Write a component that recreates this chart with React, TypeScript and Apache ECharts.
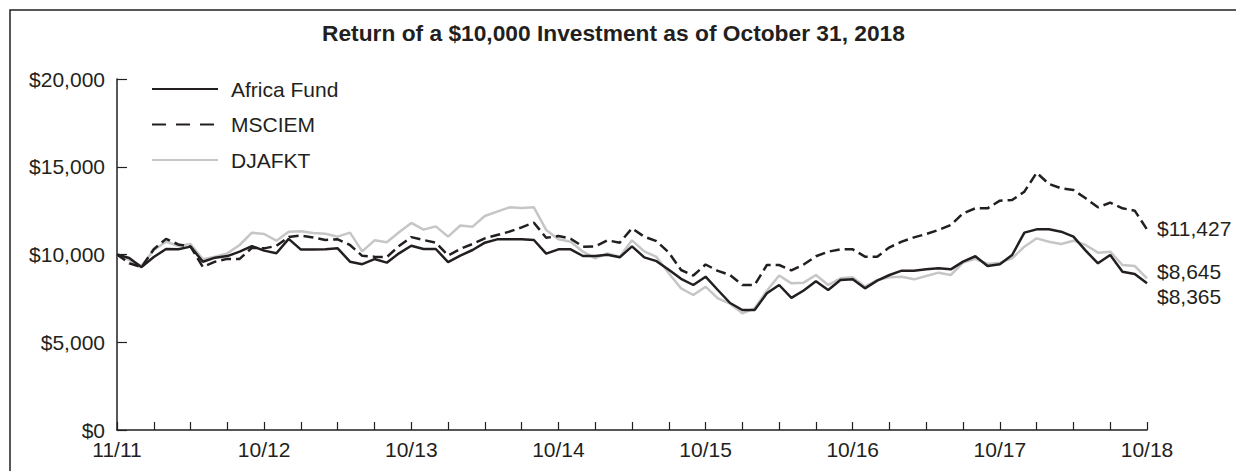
import React, { useEffect, useRef } from "react";
import * as echarts from "echarts";

const TITLE = "Return of a $10,000 Investment as of October 31, 2018";
const TICK_LABELS = ["11/11", "10/12", "10/13", "10/14", "10/15", "10/16", "10/17", "10/18"];
// index 0 = inception (11/11), then month ends 11/11 ... 10/18
const CATEGORIES = ["start 11/11"].concat(
  Array.from({ length: 84 }, (_, k) => {
    const m = ((10 + k) % 12) + 1;
    const y = 11 + Math.floor((10 + k) / 12);
    return `${m}/${y}`;
  })
);

const AFRICA_FUND = [
  10000, 9800, 9280, 9860, 10310, 10300, 10450, 9590, 9820, 9910,
  10160, 10480, 10220, 10070, 10890, 10280, 10280, 10300, 10350, 9590,
  9450, 9740, 9535, 10066, 10500, 10313, 10313, 9570, 9940, 10256,
  10674, 10864, 10864, 10864, 10826, 10050, 10294, 10294, 9915, 9915,
  9990, 9839, 10465, 9839, 9620, 9136, 8613, 8262, 8737, 7977,
  7236, 6838, 6838, 7787, 8262, 7530, 7950, 8480, 7977, 8547,
  8585, 8072, 8509, 8832, 9079, 9079, 9155, 9212, 9155, 9592,
  9900, 9345, 9440, 9972, 11244, 11434, 11434, 11301, 11016, 10218,
  9497, 9972, 9022, 8889, 8365,
];

const MSCIEM = [
  10000, 9500, 9280, 10300, 10890, 10570, 10450, 9290, 9591, 9750,
  9750, 10380, 10350, 10490, 11000, 11080, 10970, 10826, 10864, 10541,
  9925, 9877, 9850, 10480, 10990, 10826, 10674, 9945, 10320, 10598,
  10921, 11111, 11301, 11548, 11814, 10950, 11054, 10900, 10446, 10465,
  10807, 10674, 11491, 11016, 10760, 10114, 9117, 8803, 9430, 9070,
  8832, 8262, 8262, 9402, 9402, 9098, 9430, 9900, 10161, 10294,
  10294, 9877, 9877, 10408, 10731, 10978, 11168, 11396, 11681, 12346,
  12631, 12631, 13067, 13105, 13580, 14663, 14017, 13770, 13675, 13200,
  12688, 12954, 12631, 12498, 11427,
];

const DJAFKT = [
  10000, 9690, 9345, 10256, 10730, 10484, 10598, 9725, 9877, 10066,
  10541, 11244, 11168, 10788, 11301, 11320, 11225, 11187, 11016, 11244,
  10180, 10807, 10700, 11272, 11800, 11415, 11605, 11016, 11650, 11586,
  12194, 12441, 12688, 12650, 12688, 11400, 10864, 10731, 10161, 9782,
  10066, 9877, 10807, 10180, 9860, 8927, 8072, 7692, 8167, 7502,
  7198, 6648, 6933, 7930, 8800, 8357, 8395, 8832, 8262, 8642,
  8699, 8167, 8547, 8699, 8737, 8585, 8775, 8965, 8832, 9535,
  9750, 9459, 9535, 9782, 10446, 10921, 10731, 10598, 10788, 10541,
  10104, 10161, 9402, 9345, 8645,
];

const SERIES_NAMES = ["Africa Fund", "MSCIEM", "DJAFKT"];

const INK = "#231f20";
const GRAY = "#c6c6c6";
const FONT = "'Liberation Sans', Arial, Helvetica, sans-serif";

const money = (v: number) => "$" + Number(v).toLocaleString("en-US");

export default function App() {
  const ref = useRef<HTMLDivElement>(null);
  useEffect(() => {
    if (!ref.current) return;
    const chart = echarts.init(ref.current, null, { renderer: "svg" });
    const endLabel = (dy: number) => ({
      show: true,
      formatter: (p: any) => money(p.value),
      distance: 10,
      offset: [0, dy],
      fontSize: 21,
      fontFamily: FONT,
      color: INK,
    });
    chart.setOption({
      animation: false,
      backgroundColor: "#ffffff",
      textStyle: { fontFamily: FONT, color: INK },
      title: {
        text: TITLE,
        left: 322,
        top: 21,
        padding: 0,
        textStyle: { fontSize: 22.75, fontWeight: "bold", color: INK, fontFamily: FONT },
      },
      graphic: [
        {
          type: "rect",
          shape: { x: 10, y: 10, width: 1400, height: 700 },
          style: { fill: "none", stroke: INK, lineWidth: 1.5 },
          silent: true,
        },
      ],
      legend: {
        orient: "vertical",
        left: 151,
        top: 78,
        itemWidth: 66,
        itemHeight: 14,
        itemGap: 13.5,
        padding: 0,
        itemStyle: { opacity: 0 },
        data: [
          { name: SERIES_NAMES[0] },
          { name: SERIES_NAMES[1], lineStyle: { type: [14, 10] } },
          { name: SERIES_NAMES[2] },
        ],
        textStyle: { fontSize: 21, color: INK, fontFamily: FONT, lineHeight: 22, padding: [0, 0, 0, 8] },
      },
      grid: { left: 117, right: 89, top: 79, bottom: 41, containLabel: false },
      xAxis: {
        type: "category",
        boundaryGap: false,
        data: CATEGORIES,
        axisLine: { lineStyle: { color: INK, width: 1.5 } },
        axisTick: { show: true, inside: true, length: 8, interval: 2, lineStyle: { color: INK, width: 1.2 } },
        axisLabel: {
          interval: (index: number) => index % 12 === 0,
          formatter: (_v: string, index: number) => TICK_LABELS[Math.round(index / 12)],
          fontSize: 21,
          color: INK,
          fontFamily: FONT,
          margin: 9,
        },
        splitLine: { show: false },
      },
      yAxis: {
        type: "value",
        min: 0,
        max: 20000,
        interval: 5000,
        axisLine: { show: true, lineStyle: { color: INK, width: 1.5 } },
        axisTick: { show: true, inside: true, length: 10, lineStyle: { color: INK, width: 1.2 } },
        axisLabel: { formatter: (v: number) => money(v), fontSize: 21, color: INK, fontFamily: FONT, margin: 12 },
        splitLine: { show: false },
      },
      series: [
        {
          name: SERIES_NAMES[0],
          type: "line",
          data: AFRICA_FUND,
          symbol: "none",
          z: 4,
          color: INK,
          lineStyle: { color: INK, width: 2.5 },
          endLabel: endLabel(13.5),
        },
        {
          name: SERIES_NAMES[1],
          type: "line",
          data: MSCIEM,
          symbol: "none",
          z: 3,
          color: INK,
          lineStyle: { color: INK, width: 2.5, type: [10, 5] },
          endLabel: endLabel(-1),
        },
        {
          name: SERIES_NAMES[2],
          type: "line",
          data: DJAFKT,
          symbol: "none",
          z: 2,
          color: GRAY,
          lineStyle: { color: GRAY, width: 2.5 },
          endLabel: endLabel(-6.5),
        },
      ],
    });
    return () => chart.dispose();
  }, []);
  return (
    <div
      ref={ref}
      style={{ position: "fixed", left: 0, top: 0, width: 1236, height: 471, background: "#fff" }}
    />
  );
}
